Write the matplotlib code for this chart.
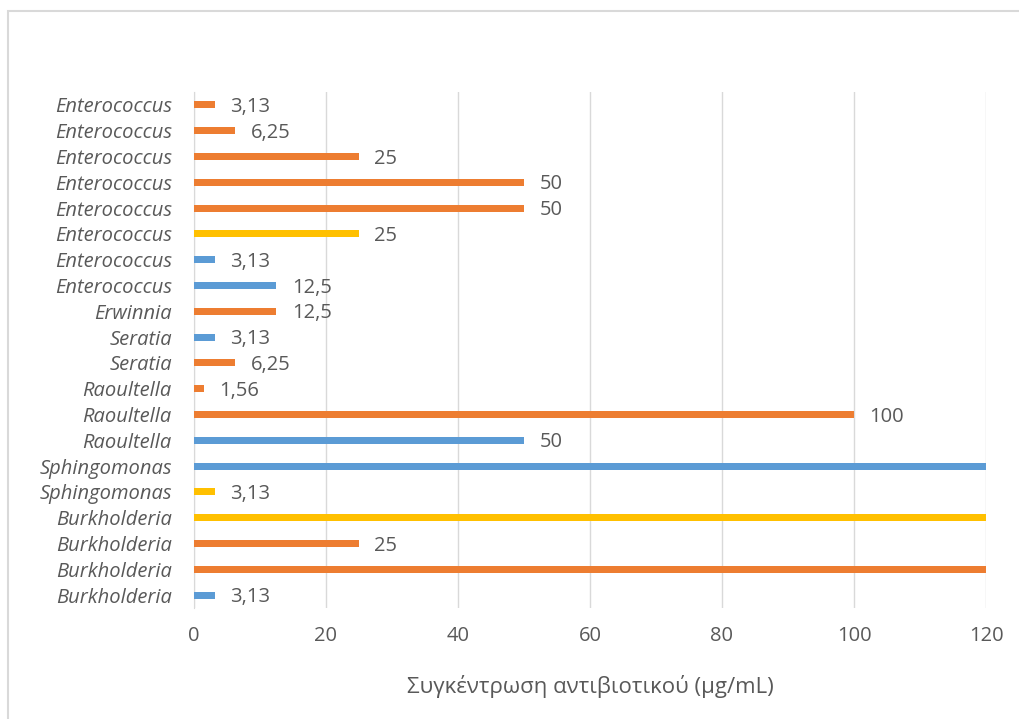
import numpy as np
import matplotlib
matplotlib.use("Agg")
import matplotlib.pyplot as plt
from matplotlib.patches import Rectangle

plt.rcParams['font.family'] = ['Open Sans', 'DejaVu Sans']

# bottom to top, as drawn
genera = ["Burkholderia", "Burkholderia", "Burkholderia", "Burkholderia",
          "Sphingomonas", "Sphingomonas", "Raoultella", "Raoultella", "Raoultella",
          "Seratia", "Seratia", "Erwinnia",
          "Enterococcus", "Enterococcus", "Enterococcus", "Enterococcus",
          "Enterococcus", "Enterococcus", "Enterococcus", "Enterococcus"]
values = [3.13, 200, 25, 200,
          3.13, 200, 50, 100, 1.56,
          6.25, 3.13, 12.5,
          12.5, 3.13, 25, 50,
          50, 25, 6.25, 3.13]
groups = ["b", "o", "o", "y",
          "y", "b", "b", "o", "o",
          "o", "b", "o",
          "b", "b", "y", "o",
          "o", "o", "o", "o"]
xmax = 120
xticks = [0, 20, 40, 60, 80, 100, 120]
xlabel = "Συγκέντρωση αντιβιοτικού (μg/mL)"

palette = {"b": "#5B9BD5", "o": "#ED7D31", "y": "#FFC000"}
txt = "#595959"

fig = plt.figure(figsize=(10.2, 7.19), dpi=100)
fig.patches.append(Rectangle((8/1020, -0.1), 1.2, 1 - 11/719 + 0.1,
                             transform=fig.transFigure, fill=False,
                             edgecolor="#D9D9D9", linewidth=1.5))

ax = fig.add_axes([194/1020, 1 - 608/719, (986-194)/1020, (608-92)/719])
y = np.arange(len(genera))
ax.barh(y, values, height=0.27, color=[palette[g] for g in groups], zorder=3)

for yi, v in zip(y, values):
    if v <= xmax:
        lab = ("%g" % v).replace(".", ",")
        ax.annotate(lab, (v, yi), xytext=(11, -1.5), textcoords="offset points",
                    va="center", ha="left", fontsize=14.5, color=txt)

ax.set_xlim(0, xmax)
ax.set_ylim(-0.5, len(genera) - 0.5)
ax.set_xticks(xticks)
ax.set_xticklabels([str(t) for t in xticks], fontsize=14.5, color=txt)
ax.set_yticks(y)
ax.set_yticklabels(genera, fontsize=14.5, color=txt, style="italic")
ax.tick_params(length=0, pad=16)
ax.tick_params(axis="x", pad=13)
ax.grid(axis="x", color="#D9D9D9", linewidth=1, zorder=0)
for s in ["top", "right", "bottom"]:
    ax.spines[s].set_visible(False)
ax.spines["left"].set_color("#D9D9D9")
ax.set_xlabel(xlabel, fontsize=16, color=txt, labelpad=21)

fig.savefig("out.png", dpi=100)
